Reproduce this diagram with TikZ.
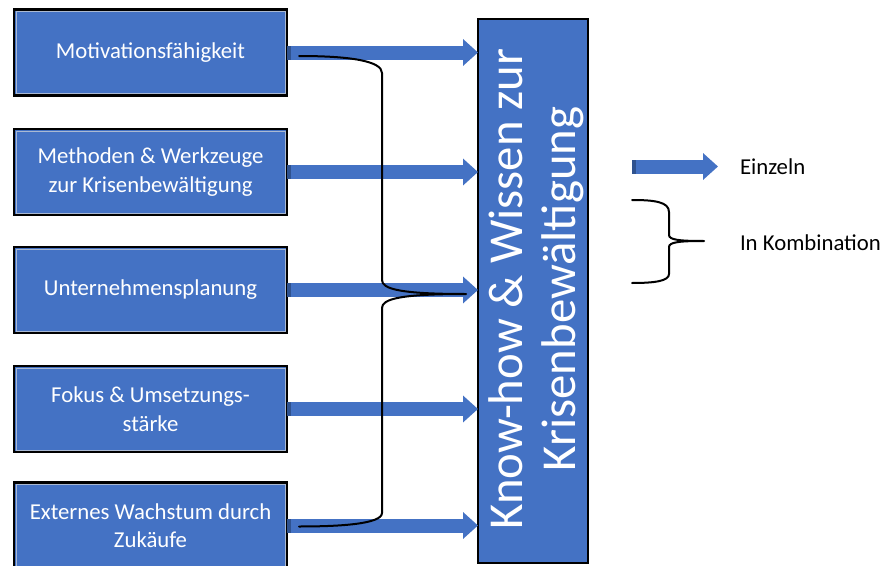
\documentclass[tikz,border=0pt]{standalone}
\usepackage{fontspec}
\setmainfont{Carlito}
\usetikzlibrary{arrows.meta}
\definecolor{kbblue}{RGB}{68,114,196}
\definecolor{kbdark}{RGB}{47,82,143}
\definecolor{kbrim}{RGB}{170,185,210}
\tikzset{
  skillbox/.style={draw=black, line width=2pt, fill=kbblue, text=white, align=center,
    minimum width=218.4pt, minimum height=68.8pt, font=\fontsize{18.2}{22.8}\selectfont},
  knowbox/.style={draw=black, line width=2pt, fill=kbblue, minimum width=88pt, minimum height=435.2pt},
  knowtext/.style={text=white, align=center, rotate=90, font=\fontsize{39}{42.4}\selectfont},
  blockarrow/.style={draw=kbblue, line width=11.2pt, -{Triangle[width=20.8pt,length=12pt]}},
  arrowend/.style={draw=kbdark, line width=11.2pt},
  boxrim/.style={draw=kbrim, line width=0.6pt},
  bracket/.style={draw=black, line width=1.6pt, line join=round, line cap=round},
  legtext/.style={anchor=west, font=\fontsize{18.2}{22.8}\selectfont}
}
\def \globalscale {1.000000}

\begin{document}
\begin{tikzpicture}[y=0.80pt, x=0.80pt, yscale=-\globalscale, xscale=\globalscale, inner sep=0pt, outer sep=0pt]
\useasboundingbox (0,0) rectangle (889,566);



\node[skillbox] (mot) at (150.5,52.5) {Motivationsfähigkeit};



\node[skillbox] (meth) at (150.5,172) {Methoden \& Werkzeuge\\zur Krisenbewältigung};



\node[skillbox] (plan) at (150.5,290) {Unternehmensplanung};



\node[skillbox] (fokus) at (150.5,409) {Fokus \& Umsetzungs-\\stärke};



\node[skillbox] (ext) at (150.5,525.5) {Externes Wachstum durch\\Zukäufe};



\node[knowbox] (know) at (533,291) {};



\foreach \n in {mot,meth,plan,fokus,ext} {
  \draw[boxrim] ([shift={(1.6pt,1.6pt)}]\n.north west) rectangle ([shift={(-1.6pt,-1.6pt)}]\n.south east);
  \draw[blockarrow] (\n.east) -- (\n.east -| know.west);
  \draw[arrowend] (\n.east) -- ++(4,0);
}



\node[knowtext] (knowlabel) at (536,289) {Know-how \& Wissen zur\\Krisenbewältigung};



\path[bracket] (299,56) .. controls (350,56) and (382,61) .. (382,73) -- (382,280) .. controls (382,289) and (400,294) .. (466,294) .. controls (400,294) and (382,299) .. (382,308) -- (382,513) .. controls (382,524) and (340,526.5) .. (299,526.5);



\coordinate (legstart) at (632,166.5);
\coordinate (legend) at (718,166.5);
\draw[blockarrow] (legstart) -- (legend);
\draw[arrowend] (legstart) -- ++(4,0);



\node[legtext] (einzeln) at (740,167) {Einzeln};



\path[bracket] (632,200) .. controls (655,200) and (669,202) .. (669,212) -- (669,235) .. controls (669,240) and (680,241) .. (704,241) .. controls (680,241) and (669,242) .. (669,247) -- (669,274) .. controls (669,281) and (655,283) .. (632,283);



\node[legtext] (kombi) at (740,243) {In Kombination};




\end{tikzpicture}
\end{document}
